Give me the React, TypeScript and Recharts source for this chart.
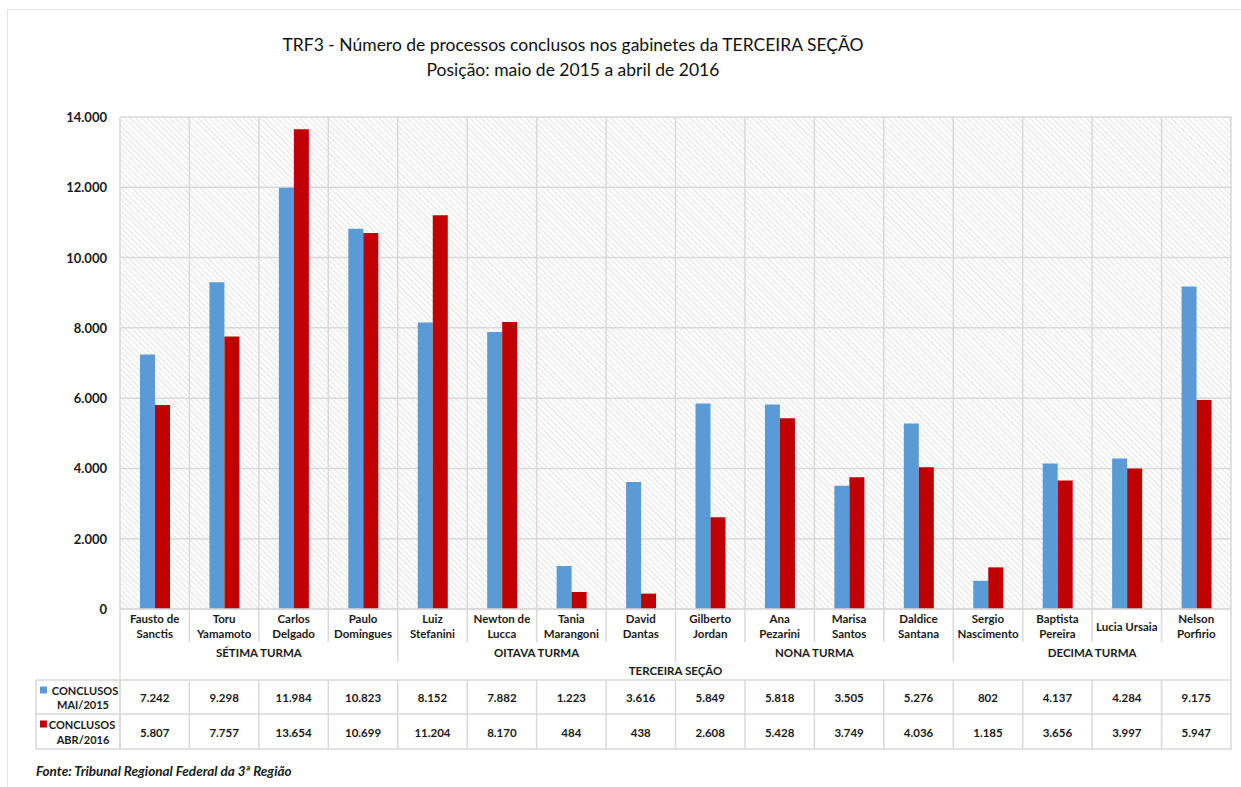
import React from 'react';
import { BarChart, Bar, XAxis, YAxis, CartesianGrid } from 'recharts';

// Judges (category labels, split in lines as printed under the axis)
const judges: string[][] = [
  ['Fausto de', 'Sanctis'],
  ['Toru', 'Yamamoto'],
  ['Carlos', 'Delgado'],
  ['Paulo', 'Domingues'],
  ['Luiz', 'Stefanini'],
  ['Newton de', 'Lucca'],
  ['Tania', 'Marangoni'],
  ['David', 'Dantas'],
  ['Gilberto', 'Jordan'],
  ['Ana', 'Pezarini'],
  ['Marisa', 'Santos'],
  ['Daldice', 'Santana'],
  ['Sergio', 'Nascimento'],
  ['Baptista', 'Pereira'],
  ['Lucia Ursaia'],
  ['Nelson', 'Porfirio'],
];

const conclusosMai2015 = [7242, 9298, 11984, 10823, 8152, 7882, 1223, 3616, 5849, 5818, 3505, 5276, 802, 4137, 4284, 9175];
const conclusosAbr2016 = [5807, 7757, 13654, 10699, 11204, 8170, 484, 438, 2608, 5428, 3749, 4036, 1185, 3656, 3997, 5947];

const turmaNames = ['SÉTIMA TURMA', 'OITAVA TURMA', 'NONA TURMA', 'DECIMA TURMA'];
const turmaSizes = [4, 4, 4, 4];
const secaoName = 'TERCEIRA SEÇÃO';

const seriesNames = [['CONCLUSOS', 'MAI/2015'], ['CONCLUSOS', 'ABR/2016']];
const yTicks = [0, 2000, 4000, 6000, 8000, 10000, 12000, 14000];

const titleLines = [
  'TRF3 - Número de processos conclusos nos gabinetes da TERCEIRA SEÇÃO',
  'Posição: maio de 2015 a abril de 2016',
];
const sourceText = 'Fonte: Tribunal Regional Federal da 3ª Região';

const BLUE = '#5B9BD5';
const RED = '#C00000';
const GRID = '#d9d9d9';
const FONT = 'Lato, "Open Sans", sans-serif';

const data = judges.map((lines, i) => ({
  name: lines.join(' '),
  lines,
  mai: conclusosMai2015[i],
  abr: conclusosAbr2016[i],
}));

// layout
const W = 1241;
const H = 787;
const PLOT_LEFT = 120;
const PLOT_RIGHT = 1231;
const PLOT_TOP = 117;
const PLOT_BOTTOM = 609;
const BAND = (PLOT_RIGHT - PLOT_LEFT) / data.length;
const TABLE_LEFT = 36;
const ROW1_TOP = 680;
const ROW2_TOP = 714;
const ROW_BOTTOM = 749;

const fmt = (v: number) => String(v).replace(/\B(?=(\d{3})+(?!\d))/g, '.');

const turmaStarts: number[] = [];
{
  let acc = 0;
  turmaSizes.forEach((s) => {
    turmaStarts.push(acc);
    acc += s;
  });
}

const YTick = (props: any) => {
  const { y, payload } = props;
  return (
    <text x={107} y={y} textAnchor="end" dominantBaseline="central" fontFamily={FONT} fontWeight={700} fontSize={13} fill="#1a1a1a">
      {fmt(payload.value)}
    </text>
  );
};

const XTick = (props: any) => {
  const { x, index } = props;
  const d = data[index];
  const left = x - BAND / 2;
  const right = x + BAND / 2;
  const els: React.ReactNode[] = [];
  const txt = { fontFamily: FONT, fontWeight: 700, fontSize: 11.5, fill: '#1a1a1a', textAnchor: 'middle' as const, dominantBaseline: 'central' as const };

  // judge name
  if (d.lines.length === 1) {
    els.push(<text key="n0" x={x} y={626} {...txt}>{d.lines[0]}</text>);
  } else {
    els.push(<text key="n0" x={x} y={618} {...txt}>{d.lines[0]}</text>);
    els.push(<text key="n1" x={x} y={633} {...txt}>{d.lines[1]}</text>);
  }
  // table values
  els.push(<text key="v0" x={x} y={697} {...txt}>{fmt(d.mai)}</text>);
  els.push(<text key="v1" x={x} y={732} {...txt}>{fmt(d.abr)}</text>);

  // left boundary lines
  const isTurmaStart = turmaStarts.includes(index);
  if (index > 0) {
    els.push(<line key="bl" x1={left} x2={left} y1={PLOT_BOTTOM} y2={isTurmaStart ? 662 : 642} stroke={GRID} strokeWidth={1.5} />);
  }
  els.push(<line key="tl" x1={left} x2={left} y1={ROW1_TOP} y2={ROW_BOTTOM} stroke={GRID} strokeWidth={1.5} />);

  // turma label
  const t = turmaStarts.indexOf(index);
  if (t >= 0) {
    const cx = left + (turmaSizes[t] * BAND) / 2;
    els.push(<text key="turma" x={cx} y={652} {...txt}>{turmaNames[t]}</text>);
  }

  if (index === 0) {
    // section label, frame of the label area and the data table
    els.push(<text key="secao" x={left + (data.length * BAND) / 2} y={670} {...txt}>{secaoName}</text>);
    els.push(<line key="pl" x1={left} x2={left} y1={PLOT_BOTTOM} y2={ROW_BOTTOM} stroke={GRID} strokeWidth={1.5} />);
    els.push(<line key="tabL" x1={TABLE_LEFT} x2={TABLE_LEFT} y1={ROW1_TOP} y2={ROW_BOTTOM} stroke={GRID} strokeWidth={1.5} />);
    [ROW1_TOP, ROW2_TOP, ROW_BOTTOM].forEach((yy, k) => (
      els.push(<line key={`h${k}`} x1={TABLE_LEFT} x2={PLOT_RIGHT} y1={yy} y2={yy} stroke={GRID} strokeWidth={1.5} />)
    ));
    // row headers with legend keys
    const heads = [
      { color: BLUE, y0: 690, y1: 704, lines: seriesNames[0] },
      { color: RED, y0: 724, y1: 739, lines: seriesNames[1] },
    ];
    heads.forEach((h, k) => {
      els.push(<rect key={`sq${k}`} x={40} y={h.y0 - 3.5} width={7} height={7} fill={h.color} />);
      els.push(<text key={`ha${k}`} x={k === 0 ? 85 : 82} y={h.y0} {...txt} fontSize={11}>{h.lines[0]}</text>);
      els.push(<text key={`hb${k}`} x={83} y={h.y1} {...txt} fontSize={11}>{h.lines[1]}</text>);
    });
  }
  if (index === data.length - 1) {
    els.push(<line key="rl" x1={right} x2={right} y1={PLOT_BOTTOM} y2={ROW_BOTTOM} stroke={GRID} strokeWidth={1.5} />);
  }
  return <g>{els}</g>;
};

export default function App() {
  return (
    <div style={{ position: 'absolute', left: 0, top: 0, width: W, height: H, background: '#fff', fontFamily: FONT }}>
      {/* outer frame */}
      <div style={{ position: 'absolute', left: 7, top: 9, width: W - 7, height: H - 9, borderLeft: '1.5px solid #e3e3e3', borderTop: '1.5px solid #e3e3e3' }} />
      <div style={{ position: 'absolute', left: 0, top: 32, width: 1146, textAlign: 'center', fontSize: 17.5, lineHeight: '25px', color: '#111' }}>
        {titleLines.map((l) => (
          <div key={l}>{l}</div>
        ))}
      </div>
      <div style={{ position: 'absolute', left: 36, top: 763, fontSize: 13.5, fontWeight: 700, fontStyle: 'italic', color: '#1a1a1a' }}>
        {sourceText}
      </div>
      <div style={{ position: 'absolute', left: 0, top: 0 }}>
        <BarChart
          width={W}
          height={H}
          data={data}
          margin={{ top: PLOT_TOP, right: W - PLOT_RIGHT, left: 0, bottom: 0 }}
          barGap={0}
        >
          <defs>
            <pattern id="hatch" width="4" height="4" patternUnits="userSpaceOnUse" patternTransform="rotate(-45)">
              <rect width="4" height="4" fill="#ffffff" />
              <line x1="0" y1="0" x2="0" y2="4" stroke="#dcdcdc" strokeWidth="1.6" />
            </pattern>
          </defs>
          <CartesianGrid
            fill="url(#hatch)"
            stroke={GRID}
            strokeWidth={1.5}
            verticalCoordinatesGenerator={({ offset }: any) =>
              Array.from({ length: data.length + 1 }, (_, i) => offset.left + (i * offset.width) / data.length)
            }
          />
          <XAxis
            dataKey="name"
            height={H - PLOT_BOTTOM}
            interval={0}
            tickLine={false}
            axisLine={{ stroke: GRID, strokeWidth: 1.5 }}
            tick={<XTick />}
          />
          <YAxis
            width={PLOT_LEFT}
            domain={[0, 14000]}
            ticks={yTicks}
            axisLine={false}
            tickLine={false}
            tick={<YTick />}
          />
          <Bar dataKey="mai" fill={BLUE} barSize={15} isAnimationActive={false} />
          <Bar dataKey="abr" fill={RED} barSize={15} isAnimationActive={false} />
        </BarChart>
      </div>
    </div>
  );
}
